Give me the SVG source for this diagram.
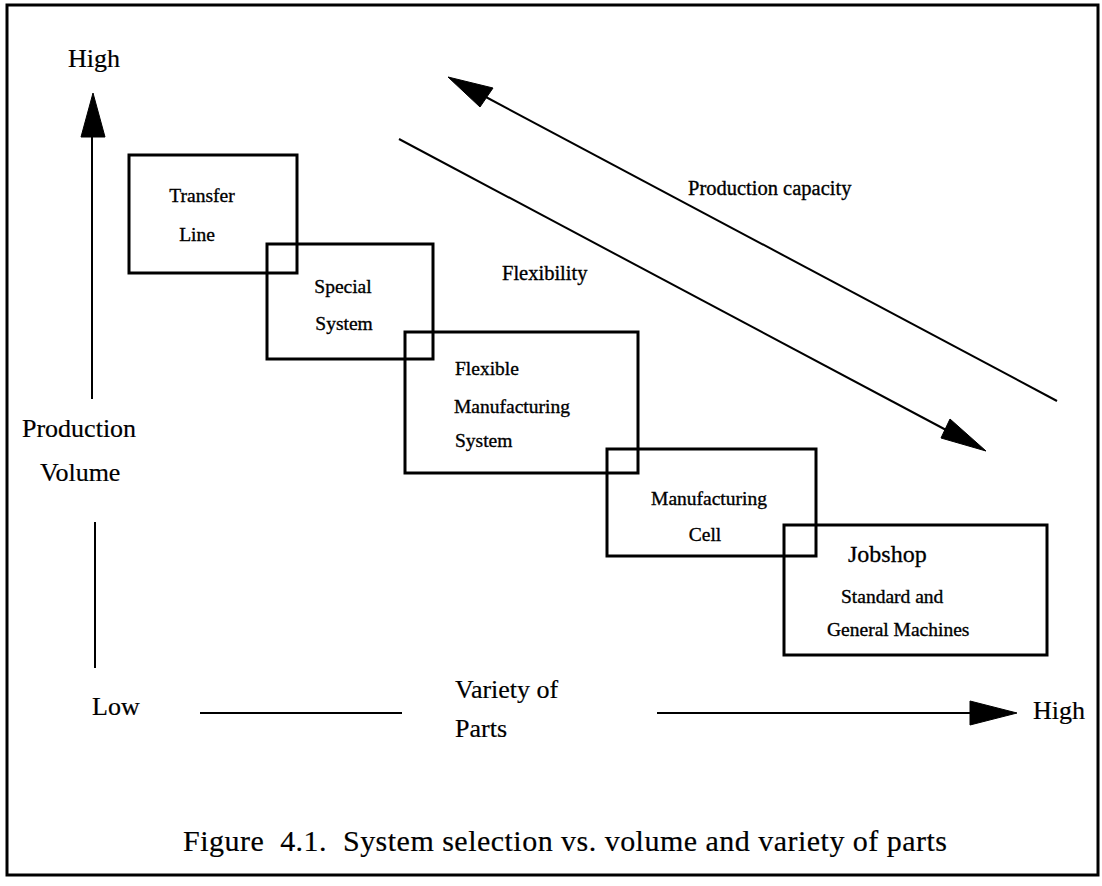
<svg xmlns="http://www.w3.org/2000/svg" width="1102" height="886" viewBox="0 0 1102 886">
  <style>
    .frame { fill: none; stroke: #000; stroke-width: 3; }
    .box { fill: none; stroke: #000; stroke-width: 3; }
    .line { fill: none; stroke: #000; stroke-width: 2; }
    .head { fill: #000; stroke: #000; stroke-width: 1; stroke-linejoin: miter; }
    text { font-family: "Liberation Serif", "Times New Roman", serif; fill: #000; }
    .axis { font-size: 26px; stroke: #000; stroke-width: 0.2; }
    .lbl { font-size: 19.5px; stroke: #000; stroke-width: 0.35; }
    .trend { font-size: 20.5px; stroke: #000; stroke-width: 0.35; }
    .lblbig { font-size: 24px; stroke: #000; stroke-width: 0.3; }
    .cap { font-size: 30px; stroke: #000; stroke-width: 0.2; }
  </style>
  <rect width="1102" height="886" fill="#fff"/>
  <rect class="frame" x="7" y="5" width="1091" height="870"/>

  <!-- axes and trend arrows -->
  <g id="connectors">
    <!-- vertical axis: production volume -->
    <line class="line" x1="92" y1="137" x2="92" y2="399"/>
    <polygon class="head" points="93,93 81,137 105,137"/>
    <line class="line" x1="95" y1="522" x2="95" y2="668"/>
    <!-- horizontal axis: variety of parts -->
    <line class="line" x1="200" y1="713" x2="402" y2="713"/>
    <line class="line" x1="657" y1="713" x2="972" y2="713"/>
    <polygon class="head" points="1017,713 970,701 970,725"/>
    <!-- production capacity (points up-left) -->
    <line class="line" x1="484" y1="96" x2="1057" y2="401"/>
    <polygon class="head" points="448,77 493,88 480,107"/>
    <!-- flexibility (points down-right) -->
    <line class="line" x1="399" y1="139" x2="948" y2="431"/>
    <polygon class="head" points="986,451 950,419 941,438"/>
  </g>

  <!-- axis labels -->
  <g id="axis-labels">
    <text class="axis" x="68" y="67">High</text>
    <text class="axis" x="22" y="437">Production</text>
    <text class="axis" x="40" y="481">Volume</text>
    <text class="axis" x="92" y="715">Low</text>
    <text class="axis" x="455" y="698">Variety of</text>
    <text class="axis" x="455" y="737">Parts</text>
    <text class="axis" x="1033" y="719">High</text>
  </g>

  <g id="trend-labels">
    <text class="trend" x="688" y="195">Production capacity</text>
    <text class="trend" x="502" y="280" font-size="20px">Flexibility</text>
  </g>

  <g id="transfer-line">
    <rect class="box" x="129" y="155" width="168" height="118"/>
    <text class="lbl" x="202" y="202" text-anchor="middle">Transfer</text>
    <text class="lbl" x="197" y="241" text-anchor="middle">Line</text>
  </g>

  <g id="special-system">
    <rect class="box" x="267" y="244" width="166" height="115"/>
    <text class="lbl" x="343" y="293" text-anchor="middle">Special</text>
    <text class="lbl" x="344" y="330" text-anchor="middle">System</text>
  </g>

  <g id="flexible-manufacturing-system">
    <rect class="box" x="405" y="332" width="233" height="141"/>
    <text class="lbl" x="455" y="375">Flexible</text>
    <text class="lbl" x="454" y="413">Manufacturing</text>
    <text class="lbl" x="455" y="447">System</text>
  </g>

  <g id="manufacturing-cell">
    <rect class="box" x="607" y="449" width="209" height="107"/>
    <text class="lbl" x="709" y="505" text-anchor="middle">Manufacturing</text>
    <text class="lbl" x="705" y="541" text-anchor="middle">Cell</text>
  </g>

  <g id="jobshop">
    <rect class="box" x="784" y="525" width="263" height="130"/>
    <text class="lblbig" x="848" y="562">Jobshop</text>
    <text class="lbl" x="841" y="603">Standard and</text>
    <text class="lbl" x="827" y="636">General Machines</text>
  </g>

  <text class="cap" x="183" y="851" xml:space="preserve" textLength="764">Figure  4.1.  System selection vs. volume and variety of parts</text>
</svg>
